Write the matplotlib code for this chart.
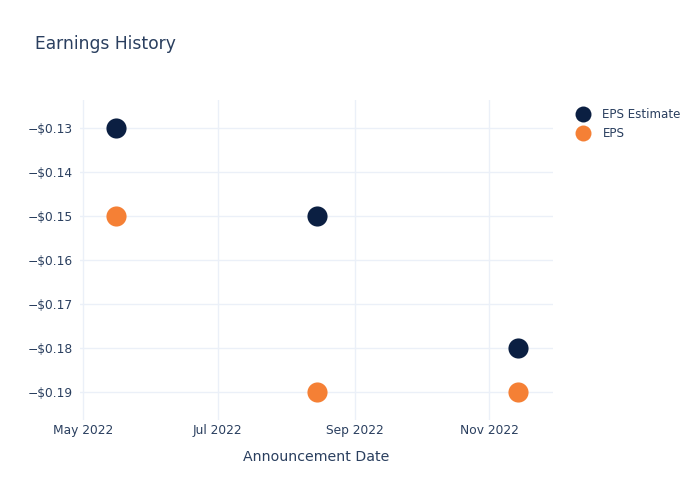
import matplotlib
matplotlib.use("Agg")
import matplotlib.pyplot as plt
import matplotlib.dates as mdates
from matplotlib.lines import Line2D
import datetime as dt

dates = ["2022-05-16", "2022-08-15", "2022-11-14"]
eps_estimate = [-0.13, -0.15, -0.18]
eps_actual = [-0.15, -0.19, -0.19]
y_ticks = [-0.13, -0.14, -0.15, -0.16, -0.17, -0.18, -0.19]
x_ticks = ["2022-05-01", "2022-07-01", "2022-09-01", "2022-11-01"]
x_tick_labels = ["May 2022", "Jul 2022", "Sep 2022", "Nov 2022"]

navy = "#0B1F42"
orange = "#F58035"
text_c = "#2a3f5f"
grid_c = "#EBF0F8"

to_d = lambda s: dt.datetime.strptime(s, "%Y-%m-%d")
xd = [to_d(d) for d in dates]

fig = plt.figure(figsize=(7, 5), dpi=100)
ax = fig.add_axes([80/700, 80/500, (553-80)/700, 320/500])

ax.scatter(xd, eps_estimate, s=210, color=navy, zorder=3, linewidths=0)
ax.scatter(xd, eps_actual, s=210, color=orange, zorder=3, linewidths=0)

ax.set_xlim(to_d("2022-04-29") + dt.timedelta(hours=14), to_d("2022-11-29") + dt.timedelta(hours=19))
ax.set_ylim(-0.19645, -0.12355)

ax.set_yticks(y_ticks)
ax.set_yticklabels(["\u2212$%.2f" % abs(v) for v in y_ticks])
ax.set_xticks([to_d(d) for d in x_ticks])
ax.set_xticklabels(x_tick_labels)

for s in ax.spines.values():
    s.set_visible(False)
ax.grid(True, color=grid_c, linewidth=1)
ax.set_axisbelow(True)
ax.tick_params(axis="both", length=0, labelsize=8.8, colors=text_c)
ax.tick_params(axis="y", pad=5)
ax.tick_params(axis="x", pad=3)

ax.set_xlabel("Announcement Date", fontsize=10.2, color=text_c, labelpad=9)
fig.text(35/700, 1 - 44/500, "Earnings History", fontsize=12.3, color=text_c, va="center", ha="left")

handles = [Line2D([], [], marker="o", linestyle="", markersize=11.5, color=navy, markeredgewidth=0),
           Line2D([], [], marker="o", linestyle="", markersize=11.5, color=orange, markeredgewidth=0)]
leg = fig.legend(handles, ["EPS Estimate", "EPS"], loc="upper left", bbox_to_anchor=(569/700, 1 - 103/500),
                 frameon=False, fontsize=8.6, labelcolor=text_c, handletextpad=0.9,
                 labelspacing=0.5, borderaxespad=0, handlelength=1.5)

fig.savefig("out.png", dpi=100, facecolor="white")
